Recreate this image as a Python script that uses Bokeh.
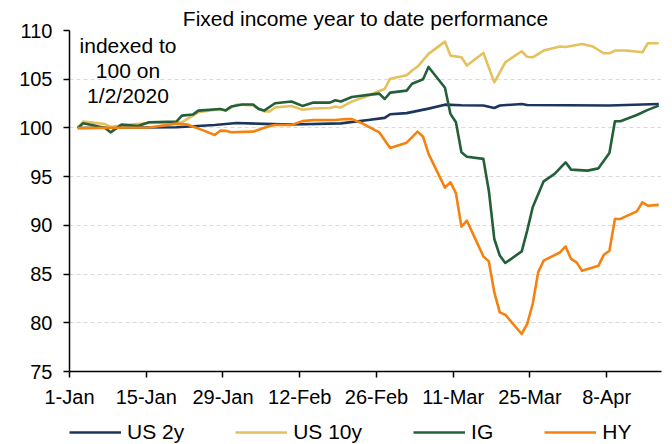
import pandas as pd
from bokeh.plotting import figure
from bokeh.layouts import column
from bokeh.models import Range1d, FixedTicker, Legend, LegendItem, Label, ColumnDataSource
from bokeh.embed import file_html
from bokeh.resources import INLINE

TITLE = "Fixed income year to date performance"
YEAR = "2020"
BASE_DATE = "2020-01-01"

TICK_DATES = ["01-01", "01-15", "01-29", "02-12", "02-26", "03-11", "03-25", "04-08"]
TICK_LABELS = ["1-Jan", "15-Jan", "29-Jan", "12-Feb", "26-Feb", "11-Mar", "25-Mar", "8-Apr"]
Y_TICKS = [75, 80, 85, 90, 95, 100, 105, 110]

SERIES_NAMES = ["US 2y", "US 10y", "IG", "HY"]

us2y_dates = ["01-02", "01-20", "01-27", "01-31", "02-05", "02-10", "02-19", "02-24", "02-27", "02-28",
              "03-02", "03-06", "03-09", "03-12", "03-16", "03-18", "03-19", "03-23", "03-24", "04-08", "04-17"]
us2y = [100.0, 100.07, 100.3, 100.5, 100.42, 100.35, 100.47, 100.82, 101.03, 101.4,
        101.52, 101.98, 102.39, 102.33, 102.3, 102.05, 102.3, 102.46, 102.35, 102.3, 102.46]

us10y_dates = ["01-02", "01-03", "01-07", "01-08", "01-10", "01-15", "01-21", "01-22", "01-24", "01-28",
               "01-29", "01-31", "02-03", "02-05", "02-06", "02-07", "02-10", "02-12", "02-14", "02-17",
               "02-18", "02-19", "02-21", "02-24", "02-26", "02-27", "02-28", "03-02", "03-03", "03-04",
               "03-06", "03-09", "03-10", "03-12", "03-13", "03-16", "03-18", "03-20", "03-23", "03-24",
               "03-25", "03-27", "03-30", "03-31", "04-02", "04-03", "04-05", "04-06", "04-07", "04-08",
               "04-09", "04-11", "04-14", "04-15", "04-17"]
us10y = [100.0, 100.65, 100.4, 100.1, 100.28, 100.5, 100.58, 100.92, 101.6, 101.95,
         101.8, 102.4, 102.3, 101.7, 101.7, 102.1, 102.25, 101.87, 102.0, 102.04,
         102.2, 102.1, 102.7, 103.3, 103.8, 104.0, 105.05, 105.4, 105.9, 106.3,
         107.6, 108.86, 107.42, 107.25, 106.4, 107.7, 104.68, 106.74, 107.87, 107.3,
         107.25, 107.94, 108.35, 108.3, 108.52, 108.62, 108.35, 108.0, 107.66, 107.66,
         107.94, 107.94, 107.76, 108.69, 108.69]

ig_dates = ["01-02", "01-03", "01-05", "01-07", "01-08", "01-10", "01-13", "01-15", "01-20", "01-21",
            "01-23", "01-24", "01-28", "01-29", "01-30", "02-01", "02-03", "02-04", "02-05", "02-07",
            "02-10", "02-12", "02-14", "02-17", "02-18", "02-19", "02-21", "02-24", "02-26", "02-27",
            "02-28", "03-02", "03-03", "03-05", "03-06", "03-09", "03-10", "03-11", "03-12", "03-13",
            "03-16", "03-17", "03-18", "03-19", "03-20", "03-23", "03-24", "03-25", "03-27", "03-29",
            "03-31", "04-01", "04-04", "04-06", "04-08", "04-09", "04-10", "04-13", "04-15", "04-17"]
ig = [100.0, 100.47, 100.24, 100.0, 99.55, 100.34, 100.2, 100.58, 100.65, 101.26,
      101.37, 101.78, 101.95, 101.8, 102.19, 102.4, 102.4, 101.95, 101.78, 102.53,
      102.72, 102.26, 102.6, 102.6, 102.84, 102.72, 103.17, 103.39, 103.52, 102.97,
      103.62, 103.83, 104.54, 105.0, 106.26, 104.13, 101.44, 100.58, 97.5, 97.05,
      96.82, 93.56, 88.6, 86.9, 86.14, 87.33, 89.46, 91.85, 94.52, 95.28,
      96.47, 95.72, 95.62, 95.85, 97.43, 100.68, 100.68, 101.33, 101.85, 102.29]

hy_dates = ["01-02", "01-15", "01-20", "01-22", "01-25", "01-27", "01-28", "01-29", "01-30", "02-03",
            "02-06", "02-07", "02-10", "02-12", "02-14", "02-18", "02-20", "02-21", "02-23", "02-26",
            "02-28", "03-02", "03-04", "03-05", "03-06", "03-09", "03-10", "03-11", "03-12", "03-13",
            "03-16", "03-17", "03-18", "03-19", "03-20", "03-23", "03-24", "03-25", "03-26", "03-27",
            "03-30", "03-31", "04-01", "04-02", "04-03", "04-06", "04-07", "04-08", "04-09", "04-10",
            "04-13", "04-14", "04-15", "04-17"]
hy = [100.0, 100.05, 100.44, 100.35, 99.72, 99.28, 99.72, 99.7, 99.55, 99.62,
      100.2, 100.3, 100.3, 100.7, 100.8, 100.82, 100.92, 100.9, 100.45, 99.55,
      97.95, 98.49, 99.62, 99.1, 97.33, 93.87, 94.42, 93.3, 89.87, 90.48,
      86.82, 86.3, 83.12, 81.07, 80.83, 78.85, 79.88, 81.93, 85.18, 86.38,
      87.23, 87.84, 86.55, 86.2, 85.35, 85.86, 86.99, 87.4, 90.66, 90.66,
      91.44, 92.36, 92.02, 92.1]

ANNOTATION = ["indexed to", "100 on", "1/2/2020"]

COLORS = ["#1b365d", "#e5c15c", "#23603a", "#f5820f"]
FONT = "Liberation Sans"


def day_numbers(md_list):
    base = pd.Timestamp(BASE_DATE)
    return [(pd.Timestamp(f"{YEAR}-{md}") - base).days for md in md_list]


def day_centers(md_list):
    # points sit in the middle of their day slot (date axis, between tick marks)
    return [d + 0.5 for d in day_numbers(md_list)]


p = figure(width=672, height=412, output_backend="svg", toolbar_location=None,
           x_range=Range1d(0, 108), y_range=Range1d(75, 110),
           min_border_left=69, min_border_right=11, min_border_top=30, min_border_bottom=41)
p.outline_line_color = None
p.background_fill_color = "white"
p.border_fill_color = "white"

p.title.text = TITLE
p.title.align = "center"
p.title.vertical_align = "middle"
p.title.text_font = FONT
p.title.text_font_size = "21px"
p.title.text_font_style = "normal"
p.title.text_color = "#000000"
p.title.standoff = 0
p.title.offset = 0

tick_days = day_numbers(TICK_DATES)
p.xaxis.ticker = FixedTicker(ticks=tick_days)
p.xaxis.major_label_overrides = {d: lab for d, lab in zip(tick_days, TICK_LABELS)}
p.yaxis.ticker = FixedTicker(ticks=Y_TICKS)

for ax in (p.xaxis[0], p.yaxis[0]):
    ax.axis_line_color = "#000000"
    ax.axis_line_width = 1.5
    ax.major_tick_line_color = "#000000"
    ax.major_tick_line_width = 1.5
    ax.major_tick_in = 0
    ax.major_tick_out = 6
    ax.minor_tick_line_color = None
    ax.major_label_text_font = FONT
    ax.major_label_text_font_size = "20px"
    ax.major_label_text_color = "#000000"
p.yaxis.major_label_standoff = 11
p.xaxis.major_label_standoff = 8

p.xgrid.grid_line_color = None
p.ygrid.grid_line_color = "#d9d9d9"
p.ygrid.grid_line_dash = "4 3"
p.ygrid.grid_line_width = 1

all_dates = [us2y_dates, us10y_dates, ig_dates, hy_dates]
all_vals = [us2y, us10y, ig, hy]
for name, dts, vals, col in zip(SERIES_NAMES, all_dates, all_vals, COLORS):
    src = ColumnDataSource(dict(x=day_centers(dts), y=vals))
    p.line("x", "y", source=src, line_color=col, line_width=2.6, line_join="round")

ann_y = [108.45, 105.9, 103.3]
for txt, yy in zip(ANNOTATION, ann_y):
    p.add_layout(Label(x=10.67, y=yy, text=txt, text_align="center", text_baseline="alphabetic",
                       text_font=FONT, text_font_size="21px", text_color="#000000"))

# legend strip below the chart (its frame is aligned with the chart frame by the column layout)
pl = figure(width=672, height=32, output_backend="svg", toolbar_location=None,
            x_range=Range1d(0, 1), y_range=Range1d(0, 1), x_axis_type=None, y_axis_type=None,
            min_border_left=69, min_border_right=11, min_border_top=0, min_border_bottom=0)
pl.outline_line_color = None
pl.xgrid.grid_line_color = None
pl.ygrid.grid_line_color = None
# legend proxies: same series, but outside this strip's (0..1) ranges so only the legend shows them
proxies = [pl.line(x=day_centers(dts), y=vals, line_color=col, line_width=2.6)
           for dts, vals, col in zip(all_dates, all_vals, COLORS)]
legend = Legend(items=[LegendItem(label=n, renderers=[r]) for n, r in zip(SERIES_NAMES, proxies)],
                orientation="horizontal", location=(0, 0),
                glyph_width=52, glyph_height=24, label_standoff=6, spacing=51,
                label_text_font=FONT, label_text_font_size="21px", label_text_color="#000000",
                padding=0, margin=0, border_line_color=None, background_fill_alpha=0)
pl.add_layout(legend)

open("out.html", "w").write(file_html(column(p, pl, spacing=0), INLINE))
